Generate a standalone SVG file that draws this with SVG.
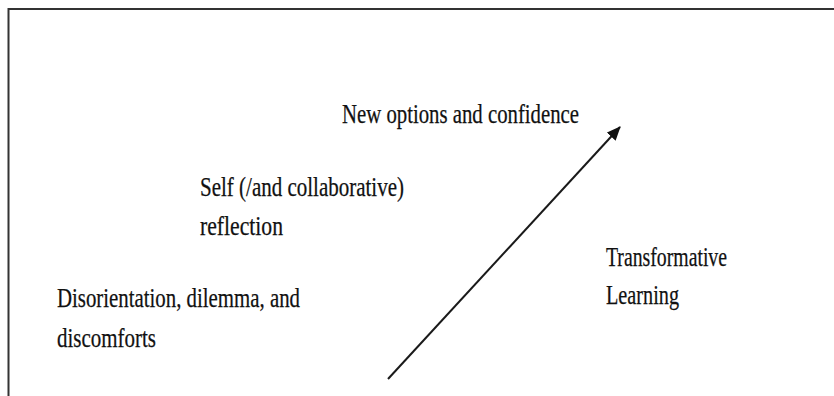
<svg xmlns="http://www.w3.org/2000/svg" width="834" height="396" viewBox="0 0 834 396">
  <style>
    .lbl { font-family: "Liberation Serif", "Times New Roman", serif; font-size: 27px; fill: #111; stroke: #111; stroke-width: 0.25; }
    .frame { stroke: #333; stroke-width: 2; fill: none; }
    .conn { stroke: #1a1a1a; stroke-width: 2; fill: none; }
  </style>
  <defs>
    <marker id="arrowhead" viewBox="0 0 14 12" refX="13" refY="6" markerWidth="14" markerHeight="12" markerUnits="userSpaceOnUse" orient="auto">
      <path d="M0,0 L14,6 L0,12 Z" fill="#111"/>
    </marker>
  </defs>
  <rect width="834" height="396" fill="#fff"/>
  <!-- page frame: top and left rules -->
  <path class="frame" d="M8.5,396 V9 H834"/>

  <g id="connectors">
    <line class="conn" x1="388" y1="379" x2="620" y2="127" marker-end="url(#arrowhead)"/>
  </g>

  <g id="new-options">
    <text class="lbl" x="342" y="123" textLength="237" lengthAdjust="spacingAndGlyphs">New options and confidence</text>
  </g>
  <g id="self-reflection">
    <text class="lbl" x="200" y="196" textLength="204" lengthAdjust="spacingAndGlyphs">Self (/and collaborative)</text>
    <text class="lbl" x="200" y="235" textLength="83" lengthAdjust="spacingAndGlyphs">reflection</text>
  </g>
  <g id="disorientation">
    <text class="lbl" x="57" y="307" textLength="243" lengthAdjust="spacingAndGlyphs">Disorientation, dilemma, and</text>
    <text class="lbl" x="57" y="347" textLength="99" lengthAdjust="spacingAndGlyphs">discomforts</text>
  </g>
  <g id="transformative-learning">
    <text class="lbl" x="606" y="266" textLength="121" lengthAdjust="spacingAndGlyphs">Transformative</text>
    <text class="lbl" x="606" y="304" textLength="73" lengthAdjust="spacingAndGlyphs">Learning</text>
  </g>
</svg>
